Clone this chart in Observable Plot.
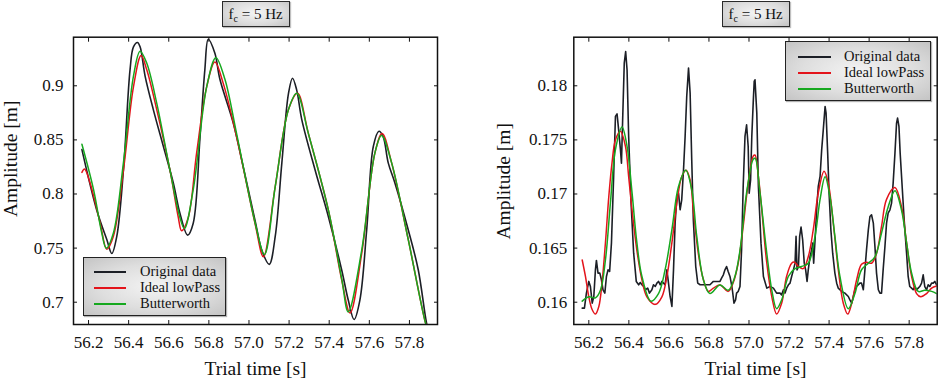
<!DOCTYPE html>
<html>
<head>
<meta charset="utf-8">
<script src="https://cdn.jsdelivr.net/npm/d3@7"></script>
<script src="https://cdn.jsdelivr.net/npm/@observablehq/plot@0.6"></script>
<style>
html, body { margin: 0; padding: 0; background: #fff; }
#root { position: relative; width: 940px; height: 382px; overflow: hidden; font-family: "Liberation Serif", "Times New Roman", serif; color: #111; }
.panel { position: absolute; top: 0; width: 470px; height: 382px; }
.title { position: absolute; top: 1px; width: 68px; height: 26px; box-sizing: border-box; border: 1.3px solid #2a2a2a;
  background: radial-gradient(ellipse at 50% 45%, #f4f4f4 0%, #dcdcdc 60%, #c2c2c2 100%);
  box-shadow: 1px 1px 1px rgba(0,0,0,0.25); font-size: 15px; text-align: center; line-height: 24px; white-space: nowrap; }
.title sub { font-size: 10px; vertical-align: -3px; line-height: 0; }
.legend { position: absolute; box-sizing: border-box; border: 1.4px solid #222;
  background: radial-gradient(ellipse at 50% 50%, #f3f3f3 0%, #dedede 55%, #c4c4c4 100%);
  box-shadow: 1px 1px 1px rgba(0,0,0,0.3); }
.row { position: absolute; left: 0; right: 0; height: 0; }
.sw { position: absolute; height: 2px; margin-top: -1px; }
.lab { position: absolute; font-size: 14.5px; line-height: 15px; margin-top: -8px; white-space: nowrap; }
</style>
</head>
<body>
<div id="root"></div>
<script>
// ---------- shared axes ----------
const xTicks = [56.2, 56.4, 56.6, 56.8, 57.0, 57.2, 57.4, 57.6, 57.8];
const xDomain = [56.125, 57.94];
const leftYTicks = [0.7, 0.75, 0.8, 0.85, 0.9];
const leftYDomain = [0.6794, 0.9449];
const rightYTicks = [0.16, 0.165, 0.17, 0.175, 0.18];
const rightYDomain = [0.15794, 0.18449];
const seriesNames = ["Original data", "Ideal lowPass", "Butterworth"];
const seriesColors = ["#1c1f26", "#e3141b", "#16a81f"];
const panelTitle = "5 Hz";

// ---------- left panel ----------
const leftOrigT = [56.167,56.241,56.291,56.316,56.341,56.374,56.407,56.424,56.444,56.457,56.482,56.523,56.573,56.623,56.656,56.694,56.722,56.756,56.780,56.797,56.830,56.855,56.921,56.975,57.031,57.064,57.101,57.131,57.164,57.197,57.217,57.238,57.263,57.330,57.396,57.462,57.495,57.524,57.553,57.587,57.620,57.648,57.669,57.694,57.728,57.794,57.844,57.885,57.900];
const leftOrigV = [0.841,0.785,0.758,0.745,0.761,0.822,0.915,0.936,0.940,0.936,0.909,0.878,0.844,0.810,0.782,0.762,0.773,0.853,0.915,0.943,0.930,0.906,0.866,0.822,0.775,0.748,0.735,0.761,0.829,0.893,0.907,0.896,0.869,0.822,0.779,0.730,0.702,0.684,0.702,0.767,0.844,0.858,0.853,0.829,0.810,0.767,0.730,0.681,0.670];

const leftIdealT = [56.167,56.180,56.208,56.258,56.291,56.324,56.374,56.424,56.462,56.490,56.540,56.606,56.647,56.664,56.697,56.739,56.789,56.830,56.872,56.938,57.031,57.072,57.131,57.197,57.242,57.296,57.396,57.462,57.504,57.562,57.628,57.664,57.711,57.794,57.880,57.900];
const leftIdealV = [0.820,0.823,0.810,0.773,0.749,0.761,0.822,0.899,0.928,0.915,0.878,0.822,0.779,0.766,0.778,0.838,0.899,0.922,0.902,0.853,0.772,0.742,0.807,0.878,0.893,0.856,0.785,0.721,0.690,0.745,0.838,0.856,0.829,0.758,0.681,0.670];

const leftButterT = [56.167,56.225,56.266,56.288,56.324,56.374,56.424,56.457,56.490,56.540,56.606,56.656,56.678,56.722,56.789,56.835,56.880,56.938,57.031,57.077,57.131,57.197,57.238,57.296,57.396,57.462,57.495,57.562,57.628,57.661,57.711,57.794,57.880,57.900];
const leftButterV = [0.846,0.804,0.764,0.750,0.764,0.829,0.909,0.932,0.921,0.884,0.822,0.778,0.768,0.804,0.899,0.926,0.906,0.856,0.773,0.744,0.807,0.878,0.893,0.856,0.785,0.722,0.691,0.748,0.838,0.854,0.829,0.758,0.681,0.670];

// ---------- right panel ----------
const rightOrigT = [56.167,56.178,56.188,56.200,56.208,56.217,56.225,56.233,56.238,56.246,56.255,56.263,56.271,56.280,56.288,56.296,56.304,56.313,56.324,56.333,56.341,56.349,56.358,56.363,56.369,56.377,56.384,56.391,56.399,56.411,56.424,56.437,56.449,56.457,56.465,56.474,56.482,56.494,56.503,56.515,56.523,56.532,56.540,56.548,56.557,56.565,56.573,56.581,56.590,56.598,56.606,56.615,56.623,56.631,56.640,56.648,56.656,56.664,56.673,56.681,56.689,56.698,56.706,56.714,56.722,56.734,56.744,56.756,56.772,56.789,56.805,56.822,56.838,56.855,56.863,56.872,56.880,56.888,56.896,56.905,56.913,56.918,56.925,56.933,56.938,56.946,56.955,56.963,56.971,56.980,56.988,56.996,57.001,57.008,57.014,57.021,57.026,57.030,57.039,57.047,57.060,57.072,57.089,57.105,57.122,57.138,57.155,57.163,57.172,57.180,57.188,57.197,57.205,57.213,57.222,57.230,57.235,57.240,57.247,57.253,57.260,57.268,57.276,57.283,57.290,57.296,57.305,57.313,57.318,57.323,57.330,57.338,57.346,57.355,57.363,57.371,57.380,57.385,57.393,57.400,57.409,57.418,57.429,57.438,57.446,57.463,57.479,57.496,57.504,57.513,57.521,57.529,57.537,57.554,57.562,57.571,57.579,57.587,57.596,57.604,57.612,57.621,57.629,57.637,57.646,57.654,57.662,57.670,57.679,57.687,57.695,57.704,57.712,57.720,57.729,57.737,57.742,57.749,57.755,57.765,57.775,57.787,57.795,57.803,57.812,57.820,57.828,57.837,57.845,57.853,57.862,57.870,57.878,57.887,57.895,57.903,57.912,57.920,57.928,57.937];
const rightOrigV = [0.15945,0.15945,0.16084,0.16192,0.16145,0.15991,0.16053,0.16299,0.16386,0.16269,0.16269,0.16207,0.16115,0.16084,0.16238,0.16299,0.16284,0.16546,0.17162,0.17717,0.17741,0.17593,0.17408,0.17285,0.17686,0.18209,0.18317,0.18148,0.17532,0.16916,0.16453,0.16192,0.16161,0.16182,0.16161,0.16145,0.16115,0.16130,0.16084,0.16115,0.16161,0.16145,0.16176,0.16192,0.16161,0.16192,0.16176,0.16161,0.16299,0.16176,0.16053,0.15961,0.16299,0.16731,0.16977,0.17008,0.16854,0.16946,0.17224,0.17532,0.17901,0.18163,0.17932,0.17316,0.16762,0.16330,0.16176,0.16161,0.16161,0.16161,0.16161,0.16192,0.16192,0.16192,0.16222,0.16253,0.16299,0.16330,0.16284,0.16238,0.16161,0.16099,0.15991,0.16022,0.16084,0.16099,0.16145,0.16484,0.17070,0.17532,0.17640,0.17439,0.17008,0.17131,0.17532,0.17840,0.18040,0.18055,0.17747,0.17070,0.16546,0.16238,0.16130,0.16145,0.16130,0.16084,0.16084,0.16068,0.16115,0.16084,0.16130,0.16161,0.16176,0.16238,0.16299,0.16361,0.16608,0.16299,0.16330,0.16608,0.16694,0.16577,0.16361,0.16299,0.16192,0.16299,0.16423,0.16484,0.16546,0.16361,0.16577,0.16854,0.17070,0.17162,0.17408,0.17593,0.17809,0.17747,0.17378,0.17008,0.16669,0.16453,0.16269,0.16176,0.16130,0.16099,0.16084,0.16053,0.16022,0.15991,0.16053,0.16115,0.16145,0.16176,0.16176,0.16115,0.16299,0.16484,0.16669,0.16792,0.16808,0.16731,0.16515,0.16269,0.16115,0.16084,0.16084,0.16299,0.16515,0.16731,0.16823,0.16854,0.16916,0.17100,0.17378,0.17655,0.17701,0.17624,0.17378,0.17070,0.16762,0.16453,0.16238,0.16145,0.16130,0.16115,0.16145,0.16115,0.16130,0.16145,0.16176,0.16253,0.16145,0.16115,0.16161,0.16145,0.16176,0.16176,0.16192,0.16161];

const rightIdealT = [56.167,56.183,56.200,56.217,56.233,56.250,56.266,56.283,56.300,56.316,56.333,56.358,56.383,56.399,56.416,56.440,56.465,56.490,56.532,56.565,56.590,56.615,56.640,56.664,56.686,56.706,56.722,56.747,56.772,56.797,56.822,56.855,56.896,56.921,56.946,56.971,56.996,57.021,57.030,57.047,57.064,57.089,57.114,57.138,57.163,57.188,57.213,57.227,57.247,57.271,57.296,57.321,57.346,57.375,57.396,57.421,57.446,57.471,57.493,57.513,57.538,57.562,57.587,57.612,57.637,57.662,57.687,57.729,57.762,57.787,57.812,57.837,57.858,57.887,57.912,57.937];
const rightIdealV = [0.1639,0.1624,0.1605,0.1593,0.1589,0.1596,0.1618,0.1655,0.1698,0.1729,0.1750,0.1758,0.1744,0.1716,0.1685,0.1648,0.1621,0.1605,0.1598,0.1605,0.1624,0.1655,0.1692,0.1716,0.1722,0.1713,0.1685,0.1645,0.1621,0.1610,0.1613,0.1616,0.1610,0.1618,0.1636,0.1670,0.1710,0.1735,0.1736,0.1716,0.1685,0.1636,0.1605,0.1589,0.1599,0.1624,0.1636,0.1637,0.1633,0.1631,0.1642,0.1667,0.1701,0.1721,0.1710,0.1673,0.1630,0.1599,0.1589,0.1599,0.1621,0.1635,0.1637,0.1636,0.1645,0.1670,0.1695,0.1706,0.1688,0.1655,0.1624,0.1608,0.1605,0.1608,0.1613,0.1615];

const rightButterT = [56.167,56.200,56.233,56.258,56.283,56.308,56.333,56.366,56.391,56.416,56.440,56.465,56.510,56.548,56.581,56.615,56.648,56.684,56.714,56.739,56.772,56.805,56.855,56.896,56.930,56.955,56.988,57.021,57.031,57.055,57.089,57.114,57.138,57.163,57.197,57.230,57.263,57.296,57.330,57.355,57.380,57.404,57.429,57.454,57.496,57.529,57.562,57.596,57.629,57.662,57.695,57.729,57.762,57.787,57.812,57.845,57.878,57.912,57.937];
const rightButterV = [0.1601,0.1605,0.1604,0.1611,0.1639,0.1692,0.1741,0.1762,0.1744,0.1701,0.1655,0.1624,0.1601,0.1608,0.1630,0.1667,0.1707,0.1722,0.1704,0.1661,0.1621,0.1608,0.1616,0.1611,0.1624,0.1648,0.1701,0.1732,0.1733,0.1701,0.1645,0.1611,0.1594,0.1602,0.1624,0.1631,0.1633,0.1636,0.1661,0.1695,0.1716,0.1698,0.1661,0.1624,0.1594,0.1608,0.1630,0.1636,0.1642,0.1664,0.1688,0.1703,0.1685,0.1655,0.1627,0.1610,0.1611,0.1610,0.1608];

// ---------- build ----------
const rows = (T, V) => T.map((t, i) => ({t, v: V[i]}));
const fmtY = d => String(d);
const fmtX = d3.format(".1f");

function makePanel(cfg) {
  const orig = rows(cfg.origT, cfg.origV), ideal = rows(cfg.idealT, cfg.idealV), butter = rows(cfg.butterT, cfg.butterV);
  return Plot.plot({
    width: 470, height: 382,
    marginLeft: cfg.marginLeft, marginRight: cfg.marginRight, marginTop: 36.7, marginBottom: 58,
    style: {fontFamily: '"Liberation Serif", "Times New Roman", serif', fontSize: "17px", background: "transparent", overflow: "visible", color: "#111"},
    x: {domain: xDomain},
    y: {domain: cfg.yDomain},
    marks: [
      Plot.line(orig, {x: "t", y: "v", stroke: seriesColors[0], strokeWidth: 1.6, curve: cfg.origCurve, clip: true}),
      Plot.line(ideal, {x: "t", y: "v", stroke: seriesColors[1], strokeWidth: 1.5, curve: "catmull-rom", clip: true}),
      Plot.line(butter, {x: "t", y: "v", stroke: seriesColors[2], strokeWidth: 1.5, curve: "catmull-rom", clip: true}),
      Plot.frame({stroke: "#111", strokeWidth: 1.5}),
      Plot.axisX(xTicks, {anchor: "bottom", tickSize: -4, fill: "none", label: null}),
      Plot.axisX(xTicks, {anchor: "top", tickSize: -4, fill: "none", label: null}),
      Plot.axisY(cfg.yTicks, {anchor: "left", tickSize: -4, fill: "none", label: null}),
      Plot.axisY(cfg.yTicks, {anchor: "right", tickSize: -4, fill: "none", label: null}),
      Plot.axisX(xTicks, {anchor: "bottom", tickSize: 0, tickPadding: 11, tickFormat: fmtX, label: null}),
      Plot.axisY(cfg.yTicks, {anchor: "left", tickSize: 0, tickPadding: cfg.yPad, tickFormat: fmtY, label: null}),
      Plot.text(["Trial time [s]"], {frameAnchor: "bottom", dy: 50, lineAnchor: "bottom", textAnchor: "middle", fontSize: 19.5, fill: "#111"}),
      Plot.text(["Amplitude [m]"], {frameAnchor: "left", dx: cfg.ylabDx, dy: cfg.ylabDy, rotate: -90, lineAnchor: "middle", textAnchor: "middle", fontSize: 19.5, fill: "#111"})
    ]
  });
}

const root = document.getElementById("root");

function addPanel(left, svg) {
  const d = document.createElement("div");
  d.className = "panel";
  d.style.left = left + "px";
  d.appendChild(svg);
  root.appendChild(d);
}

function addTitle(left) {
  const t = document.createElement("div");
  t.className = "title";
  t.style.left = left + "px";
  t.innerHTML = "f<sub>c</sub> = " + panelTitle;
  root.appendChild(t);
}

function addLegend(left, top, w, h, rowYs, lineX0, lineX1, textX) {
  const L = document.createElement("div");
  L.className = "legend";
  Object.assign(L.style, {left: left + "px", top: top + "px", width: w + "px", height: h + "px"});
  seriesNames.forEach((name, i) => {
    const r = document.createElement("div");
    r.className = "row";
    r.style.top = rowYs[i] + "px";
    const s = document.createElement("div");
    s.className = "sw";
    Object.assign(s.style, {left: lineX0 + "px", width: (lineX1 - lineX0) + "px", background: seriesColors[i]});
    const tx = document.createElement("div");
    tx.className = "lab";
    tx.style.left = textX + "px";
    tx.textContent = name;
    r.appendChild(s); r.appendChild(tx);
    L.appendChild(r);
  });
  root.appendChild(L);
}

addPanel(0, makePanel({
  origT: leftOrigT, origV: leftOrigV, idealT: leftIdealT, idealV: leftIdealV, butterT: leftButterT, butterV: leftButterV,
  yDomain: leftYDomain, yTicks: leftYTicks, marginLeft: 73, marginRight: 33, yPad: 10,
  ylabDx: -63, ylabDy: -22, origCurve: "catmull-rom"
}));
addPanel(470, makePanel({
  origT: rightOrigT, origV: rightOrigV, idealT: rightIdealT, idealV: rightIdealV, butterT: rightButterT, butterV: rightButterV,
  yDomain: rightYDomain, yTicks: rightYTicks, marginLeft: 103.3, marginRight: 3.3, yPad: 6.6,
  ylabDx: -70.5, ylabDy: 0.5, origCurve: "linear"
}));
addTitle(221.7);
addTitle(721.7);
addLegend(83, 257, 143, 59, [13.7, 29.7, 46.3], 10, 42, 56);
addLegend(785, 41, 146, 60, [15, 31, 47], 12, 45, 58);
</script>
</body>
</html>
